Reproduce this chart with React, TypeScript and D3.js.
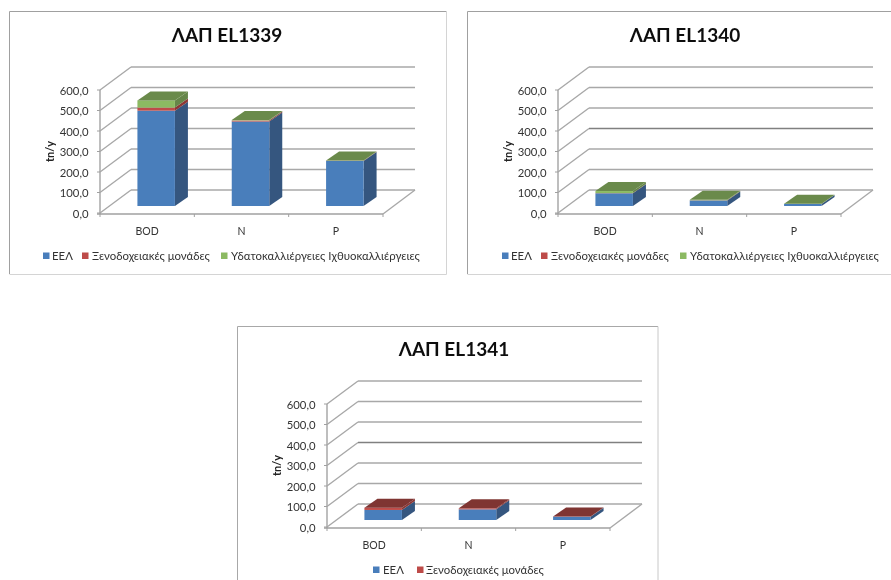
import React from 'react'
import * as d3 from 'd3'

const categories = ['BOD', 'N', 'P']
const yTicks = [0, 100, 200, 300, 400, 500, 600]

const seriesEEL = 'ΕΕΛ'
const seriesHotels = 'Ξενοδοχειακές μονάδες'
const seriesFarms = 'Υδατοκαλλιέργειες Ιχθυοκαλλιέργειες'

// tn/y, one number per category
const el1339EEL = [465, 412, 220]
const el1339Hotels = [15, 5, 1]
const el1339Farms = [35, 2, 1]

const el1340EEL = [62, 27, 10]
const el1340Hotels = [1, 1, 0]
const el1340Farms = [10, 2, 1]

const el1341EEL = [49, 52, 16]
const el1341Hotels = [11, 5, 1]

const COLORS: Record<string, { front: string; side: string; top: string }> = {
  [seriesEEL]: { front: '#4a7ebb', side: '#35567f', top: '#3a6394' },
  [seriesHotels]: { front: '#be4b48', side: '#8c3836', top: '#7f3433' },
  [seriesFarms]: { front: '#8cba62', side: '#66864a', top: '#6b8a4b' }
}

// projection of the fake 3D box, in px
const WALL_DX = 31
const WALL_DY = -23
const BAR_DX = 13
const BAR_DY = -9
const BAR_LIFT = 7
const BAR_SHIFT = 9
const BAR_WIDTH = 37.5

const FONT = 'Lato, "Open Sans", sans-serif'

interface ChartProps {
  title: string
  names: string[]
  values: number[][]
  x: number
  y: number
  legendX: number[]
  legendTextX: number[]
  legendY?: number
  heavyTick?: number
}

const poly = (pts: number[][]) => pts.map(p => p.join(',')).join(' ')

const Chart: React.FC<ChartProps> = ({ title, names, values, x, y, legendX, legendTextX, legendY = 245, heavyTick }) => {
  const axisLeft = 91
  const axisRight = 374
  const yScale = d3.scaleLinear().domain([0, 600]).range([202, 79])
  const xScale = d3.scaleBand<string>().domain(categories).range([axisLeft, axisRight])
  const fmt = (v: number) => d3.format('.1f')(v).replace('.', ',')

  const rows = categories.map((c, i) => {
    const row: Record<string, number> = {}
    names.forEach((n, k) => { row[n] = values[k][i] })
    return row
  })
  const stacked = d3.stack<Record<string, number>>().keys(names)(rows)
  const topName = names[names.length - 1]

  return (
    <g transform={`translate(${x},${y})`}>
      <text x={218} y={31} textAnchor="middle" fontSize={19} fontWeight={700} fill="#111">{title}</text>

      {/* back wall gridlines */}
      {yTicks.map(t => {
        const py = yScale(t)
        const heavy = t === heavyTick
        return (
          <g key={t}>
            <line x1={axisLeft} y1={py} x2={axisLeft + WALL_DX} y2={py + WALL_DY} stroke="#a8a8a8" strokeWidth={1.4} />
            <line
              x1={axisLeft + WALL_DX}
              y1={py + WALL_DY}
              x2={axisRight + WALL_DX + 1}
              y2={py + WALL_DY}
              stroke={heavy ? '#808080' : '#a8a8a8'}
              strokeWidth={heavy ? 1.6 : 1.4}
            />
          </g>
        )
      })}
      <line x1={axisRight + WALL_DX + 1} y1={yScale(0) + WALL_DY} x2={axisRight} y2={yScale(0) + 1} stroke="#a8a8a8" strokeWidth={1.4} />

      {/* axes */}
      <line x1={axisLeft} y1={yScale(600)} x2={axisLeft} y2={yScale(0) + 1} stroke="#a8a8a8" strokeWidth={1.5} />
      <line x1={axisLeft - 3} y1={yScale(0) + 1} x2={axisRight} y2={yScale(0) + 1} stroke="#a0a0a0" strokeWidth={1.5} />
      {yTicks.map(t => (
        <g key={t}>
          <line x1={axisLeft - 3} y1={yScale(t)} x2={axisLeft} y2={yScale(t)} stroke="#a0a0a0" />
          <text x={axisLeft - 11.5} y={yScale(t) + 4.5} textAnchor="end" fontSize={11.3} fill="#333">{fmt(t)}</text>
        </g>
      ))}
      {[...categories.map(c => xScale(c) as number), axisRight].map(px => (
        <line key={px} x1={px} y1={yScale(0) + 1} x2={px} y2={yScale(0) + 4} stroke="#a0a0a0" />
      ))}
      {categories.map(c => (
        <text key={c} x={(xScale(c) as number) + xScale.bandwidth() / 2} y={yScale(0) + 22} textAnchor="middle" fontSize={10.5} fill="#333">{c}</text>
      ))}

      <text
        transform={`translate(${axisLeft - 46},${yScale(300)}) rotate(-90)`}
        textAnchor="middle"
        fontSize={11}
        fontWeight={700}
        fill="#222"
      >tn/y</text>

      {/* bars, each stack segment has a front and a side face, lid on top */}
      {categories.map((c, i) => {
        const left = (xScale(c) as number) + xScale.bandwidth() / 2 - BAR_WIDTH / 2 + BAR_SHIFT
        const right = left + BAR_WIDTH
        const topY = yScale(stacked[stacked.length - 1][i][1]) - BAR_LIFT
        return (
          <g key={c}>
            {stacked.map(s => {
              const y0 = yScale(s[i][0]) - BAR_LIFT
              const y1 = yScale(s[i][1]) - BAR_LIFT
              const col = COLORS[s.key]
              return (
                <g key={s.key}>
                  <polygon points={poly([[right, y0], [right + BAR_DX, y0 + BAR_DY], [right + BAR_DX, y1 + BAR_DY], [right, y1]])} fill={col.side} />
                  <rect x={left} y={y1} width={BAR_WIDTH} height={y0 - y1} fill={col.front} />
                </g>
              )
            })}
            <polygon
              points={poly([[left, topY], [left + BAR_DX, topY + BAR_DY], [right + BAR_DX, topY + BAR_DY], [right, topY]])}
              fill={COLORS[topName].top}
            />
          </g>
        )
      })}

      {/* legend */}
      {names.map((n, k) => (
        <g key={n}>
          <rect x={legendX[k]} y={legendY - 3.5} width={6.5} height={6.5} fill={COLORS[n].front} />
          <text x={legendTextX[k]} y={legendY + 4} fontSize={11.4} fill="#333">{n}</text>
        </g>
      ))}
    </g>
  )
}

const App: React.FC = () => (
  <svg
    width={891}
    height={580}
    viewBox="0 0 891 580"
    style={{ position: 'absolute', left: 0, top: 0, background: '#fff' }}
    fontFamily={FONT}
  >
    <defs>
      <filter id="soft" x="0" y="0" width="100%" height="100%">
        <feGaussianBlur stdDeviation="0.35" />
      </filter>
    </defs>
    <g filter="url(#soft)">
      {/* panel frames */}
      <g fill="none">
        <path d="M9.5,274V11.5H446.5" stroke="#a0a0a0" />
        <path d="M9.5,274.5H446.5V11.5" stroke="#d4d4d4" />
        <path d="M467.5,274V11.5H891" stroke="#a0a0a0" />
        <path d="M467.5,274.5H891" stroke="#d4d4d4" />
        <path d="M237.5,580V326.5H658" stroke="#a8a8a8" />
        <path d="M658,326.5V580" stroke="#c8c8c8" />
      </g>

      <Chart
        title="ΛΑΠ EL1339"
        names={[seriesEEL, seriesHotels, seriesFarms]}
        values={[el1339EEL, el1339Hotels, el1339Farms]}
        x={9}
        y={11}
        legendX={[34, 73, 212]}
        legendTextX={[43, 83, 222]}
      />
      <Chart
        title="ΛΑΠ EL1340"
        names={[seriesEEL, seriesHotels, seriesFarms]}
        values={[el1340EEL, el1340Hotels, el1340Farms]}
        x={467}
        y={11}
        legendX={[35, 74, 213]}
        legendTextX={[44, 84, 223]}
        heavyTick={300}
      />
      <Chart
        title="ΛΑΠ EL1341"
        names={[seriesEEL, seriesHotels]}
        values={[el1341EEL, el1341Hotels]}
        x={236}
        y={325}
        legendX={[137, 181]}
        legendTextX={[147, 190]}
        heavyTick={300}
      />
    </g>
  </svg>
)

export default App
